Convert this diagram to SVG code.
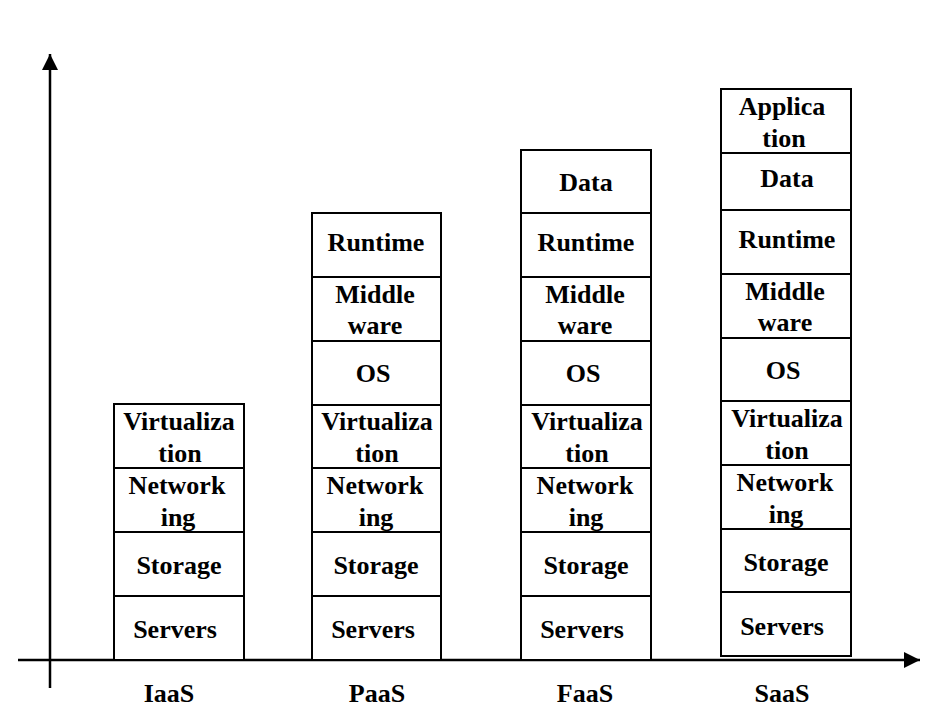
<svg xmlns="http://www.w3.org/2000/svg" width="928" height="716" viewBox="0 0 928 716">
<style>
.b{fill:#fff;stroke:#000;stroke-width:2}
text{font-family:"Liberation Serif","Times New Roman",serif;font-weight:bold;font-size:26px;fill:#000;text-anchor:middle}
.ax{stroke:#000;stroke-width:2.5;fill:none}
</style>
<defs>
<marker id="ah" viewBox="0 0 10 10" refX="10" refY="5" markerWidth="16" markerHeight="16" markerUnits="userSpaceOnUse" orient="auto">
<path d="M0,0 L10,5 L0,10 z" fill="#000"/>
</marker>
</defs>
<g id="axes">
<line class="ax" x1="18" y1="660" x2="920" y2="660" marker-end="url(#ah)"/>
<line class="ax" x1="50" y1="688" x2="50" y2="54" marker-end="url(#ah)"/>
</g>
<g id="iaas">
<rect class="b" x="114" y="404" width="130" height="64"/>
<rect class="b" x="114" y="468" width="130" height="64"/>
<rect class="b" x="114" y="532" width="130" height="64"/>
<rect class="b" x="114" y="596" width="130" height="64"/>
<text x="179" y="430">Virtualiza</text><text x="180" y="462">tion</text>
<text x="177" y="494">Network</text><text x="178" y="526">ing</text>
<text x="179" y="574">Storage</text>
<text x="175" y="638">Servers</text>
<text x="169" y="702">IaaS</text>
</g>
<g id="paas">
<rect class="b" x="312" y="213" width="129" height="64"/>
<rect class="b" x="312" y="277" width="129" height="64"/>
<rect class="b" x="312" y="341" width="129" height="64"/>
<rect class="b" x="312" y="405" width="129" height="63"/>
<rect class="b" x="312" y="468" width="129" height="64"/>
<rect class="b" x="312" y="532" width="129" height="64"/>
<rect class="b" x="312" y="596" width="129" height="64"/>
<text x="376" y="251">Runtime</text>
<text x="375" y="303">Middle</text><text x="375" y="334">ware</text>
<text x="373" y="382">OS</text>
<text x="377" y="430">Virtualiza</text><text x="377" y="462">tion</text>
<text x="375" y="494">Network</text><text x="376" y="526">ing</text>
<text x="376" y="574">Storage</text>
<text x="373" y="638">Servers</text>
<text x="377" y="702">PaaS</text>
</g>
<g id="faas">
<rect class="b" x="521" y="150" width="130" height="63"/>
<rect class="b" x="521" y="213" width="130" height="64"/>
<rect class="b" x="521" y="277" width="130" height="64"/>
<rect class="b" x="521" y="341" width="130" height="64"/>
<rect class="b" x="521" y="405" width="130" height="63"/>
<rect class="b" x="521" y="468" width="130" height="64"/>
<rect class="b" x="521" y="532" width="130" height="64"/>
<rect class="b" x="521" y="596" width="130" height="64"/>
<text x="586" y="191">Data</text>
<text x="586" y="251">Runtime</text>
<text x="585" y="303">Middle</text><text x="585" y="334">ware</text>
<text x="583" y="382">OS</text>
<text x="587" y="430">Virtualiza</text><text x="587" y="462">tion</text>
<text x="585" y="494">Network</text><text x="586" y="526">ing</text>
<text x="586" y="574">Storage</text>
<text x="582" y="638">Servers</text>
<text x="585" y="702">FaaS</text>
</g>
<g id="saas">
<rect class="b" x="721" y="89" width="130" height="64"/>
<rect class="b" x="721" y="153" width="130" height="57"/>
<rect class="b" x="721" y="210" width="130" height="64"/>
<rect class="b" x="721" y="274" width="130" height="64"/>
<rect class="b" x="721" y="338" width="130" height="63"/>
<rect class="b" x="721" y="401" width="130" height="64"/>
<rect class="b" x="721" y="465" width="130" height="64"/>
<rect class="b" x="721" y="529" width="130" height="63"/>
<rect class="b" x="721" y="592" width="130" height="64"/>
<text x="782" y="115">Applica</text><text x="784" y="147">tion</text>
<text x="787" y="187">Data</text>
<text x="787" y="248">Runtime</text>
<text x="785" y="300">Middle</text><text x="785" y="331">ware</text>
<text x="783" y="379">OS</text>
<text x="787" y="427">Virtualiza</text><text x="787" y="459">tion</text>
<text x="785" y="491">Network</text><text x="786" y="523">ing</text>
<text x="786" y="571">Storage</text>
<text x="782" y="635">Servers</text>
<text x="782" y="702">SaaS</text>
</g>
</svg>
